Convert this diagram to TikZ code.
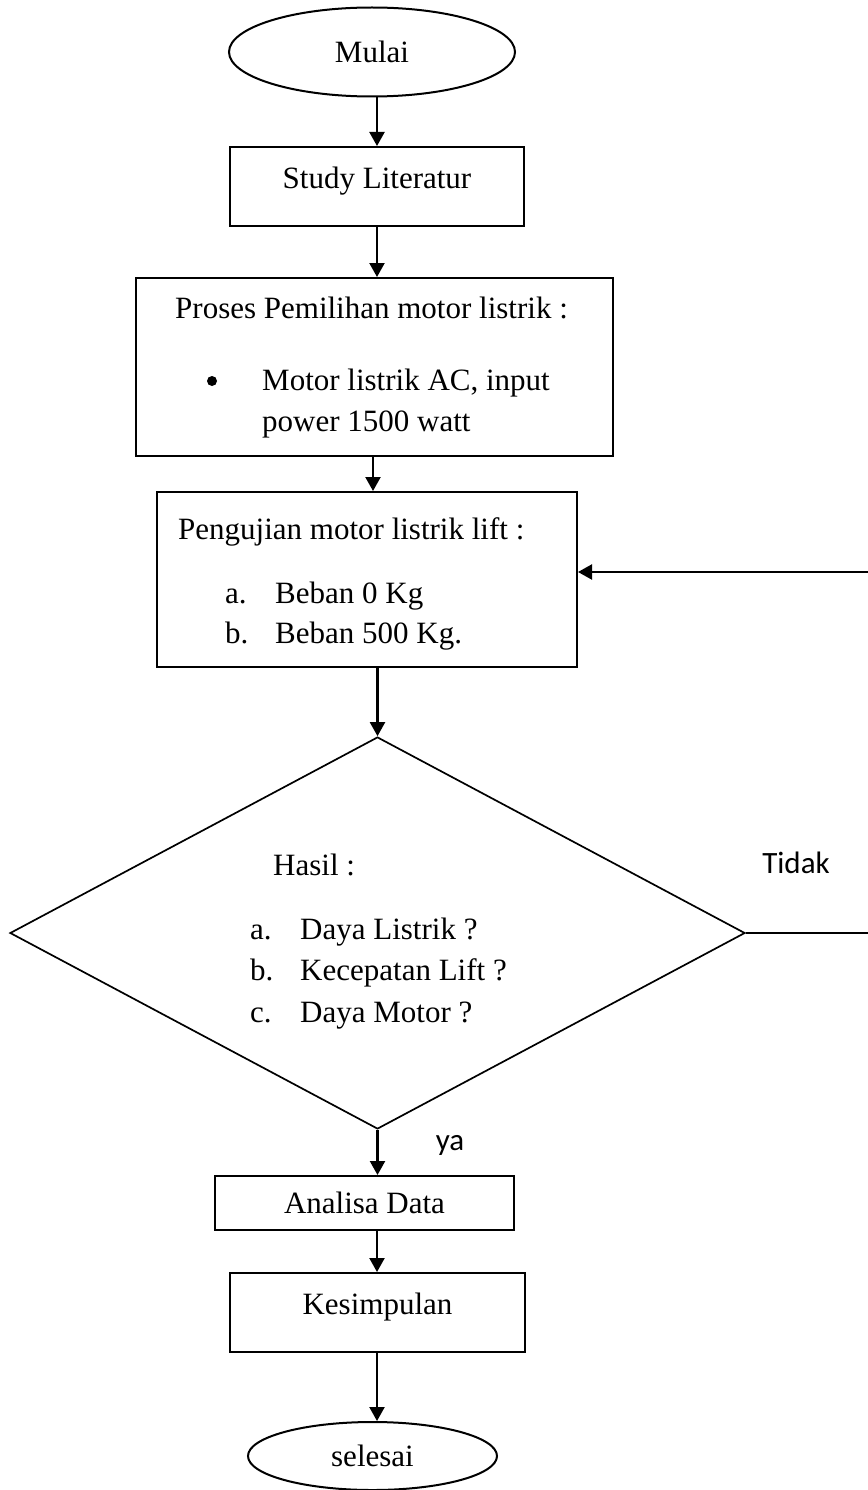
\documentclass[tikz,border=0pt]{standalone}
\usepackage{fontspec}
\setmainfont{Liberation Serif}
\newfontfamily\sansfont{Carlito}
\usetikzlibrary{shapes.geometric,arrows.meta}

\tikzset{
	box/.style={shape=rectangle, draw, line width=2pt, inner sep=0pt},
	term/.style={shape=ellipse, draw, line width=2pt, inner sep=0pt},
	txt/.style={anchor=base west, inner sep=0pt},
	lbl/.style={font=\fontsize{31}{40}\selectfont\sansfont},
	arr/.style={-{Triangle[length=14pt,width=15pt]}, line width=2.2pt},
}

\begin{document}
\begin{tikzpicture}[x=1pt, y=-1pt, font=\fontsize{31}{40}\selectfont]
	\useasboundingbox (0,0) rectangle (867,1490);
	\coordinate (axis) at (377,0);
	\coordinate (axis2) at (373,0);

	% start and first steps
	\node[term, minimum width=286pt, minimum height=89pt] (mulai) at (372,52) {Mulai};
	\node[box, minimum width=294pt, minimum height=79pt, text depth=18pt] (study) at (377,186.5) {Study Literatur};

	\node[box, minimum width=477pt, minimum height=178pt] (proses) at (374.5,367) {};
	\node[txt] (proses1) at (175,318) {Proses Pemilihan motor listrik :};
	\node[shape=circle, fill, inner sep=0pt, minimum size=10pt] (bullet) at (212,381) {};
	\node[txt] (proses2) at (262,390) {Motor listrik AC, input};
	\node[txt] (proses3) at (262,431) {power 1500 watt};

	\node[box, minimum width=420pt, minimum height=175pt] (uji) at (367,579.5) {};
	\node[txt] (uji1) at (178,539) {Pengujian motor listrik lift :};
	\node[txt] (uji2a) at (225,603) {a.};
	\node[txt] (uji2) at (275,603) {Beban 0 Kg};
	\node[txt] (uji3b) at (225,643) {b.};
	\node[txt] (uji3) at (275,643) {Beban 500 Kg.};

	% decision
	\node[shape=diamond, draw, line width=1.7pt, inner sep=0pt, aspect=1.875,
		minimum width=735pt, minimum height=392pt] (hasil) at (377.5,933) {};
	\node[txt] (hasil1) at (273,875) {Hasil :};
	\node[txt] (hasil2a) at (250,939) {a.};
	\node[txt] (hasil2) at (300,939) {Daya Listrik ?};
	\node[txt] (hasil3b) at (250,980) {b.};
	\node[txt] (hasil3) at (300,980) {Kecepatan Lift ?};
	\node[txt] (hasil4c) at (250,1022) {c.};
	\node[txt] (hasil4) at (300,1022) {Daya Motor ?};
	\node[lbl] (tidak) at (796,863) {Tidak};
	\node[lbl] (ya) at (450,1145) {ya};

	% end steps
	\node[box, minimum width=299pt, minimum height=54pt] (analisa) at (364.5,1203) {Analisa Data};
	\node[box, minimum width=295pt, minimum height=79pt, text depth=18pt] (simpul) at (377.5,1312.5) {Kesimpulan};
	\node[term, minimum width=249pt, minimum height=68pt] (selesai) at (372.5,1456) {selesai};

	\path [arr] (mulai.south -| axis) edge (study.north -| axis);
	\path [arr] (study.south -| axis) edge (proses.north -| axis);
	\path [arr] (proses.south -| axis2) edge (uji.north -| axis2);
	\path [arr] (uji.south -| hasil.north) edge (hasil.north);
	\path [arr] (hasil.south) edge (analisa.north -| hasil.south);
	\path [arr] (analisa.south -| axis) edge (simpul.north -| axis);
	\path [arr] (simpul.south -| axis) edge (selesai.north -| axis);

	% back to testing
	\coordinate (balikB) at (870,933);
	\coordinate (balikA) at (870,572);
	\draw [arr] (hasil.east) -- (balikB) -- (balikA) -- (uji.east |- balikA);
\end{tikzpicture}
\end{document}
